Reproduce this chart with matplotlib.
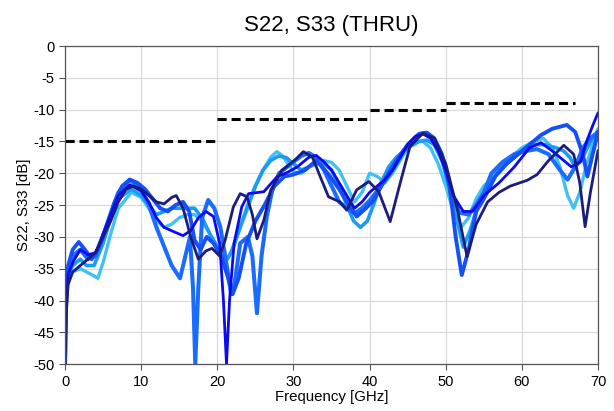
import matplotlib
matplotlib.use("Agg")
import matplotlib.pyplot as plt

plt.rcParams['font.family'] = ['Liberation Sans', 'DejaVu Sans']
plt.rcParams['axes.unicode_minus'] = False

# limit mask (segments)
lim_f0 = [0, 20, 40, 50]
lim_f1 = [20, 40, 50, 67]
lim_db = [-15, -11.4, -10, -9]

# navy trace
f_navy = [0, 0.15, 0.4, 1, 2, 3, 4, 5, 6, 7, 8, 9, 10, 11, 12, 13, 14, 14.6, 15.5, 16.5,
          17.5, 18.5, 19.3, 20.3, 21, 22.1, 23, 23.9, 24.6, 25.2, 26.1, 27, 28.5, 30.2, 31.3,
          32.5, 33.5, 34.6, 36.1, 37, 38.3, 39.9, 41.2, 42.7, 44, 45.3, 47, 48.5, 50, 51.5,
          52.8, 54, 55.5, 57, 58.5, 60.7, 62, 63.5, 65.5, 66.8, 67.6, 68.3, 69, 70]
db_navy = [-50, -42, -37.5, -35.5, -34.5, -33.5, -32.5, -30, -27.5, -24.5, -22.5, -22, -22.5,
           -23.5, -24.5, -24.8, -23.8, -23.5, -25.5, -30, -33.5, -32.2, -31.8, -33, -30.6, -25.3,
           -23.2, -23.7, -26.5, -30.3, -27.4, -22.7, -19.5, -17.9, -16.6, -17.5, -20.5, -23.7,
           -24.5, -25.8, -22.6, -21.3, -22.9, -27.6, -21.6, -15.8, -13.7, -14.5, -18.5, -25.5,
           -33.1, -28, -24.5, -23, -22, -21.1, -20.2, -18, -15.6, -17, -21.5, -28.4, -23, -16.4]

# blue trace
f_blue = [0, 0.15, 0.4, 1, 2, 3, 4, 5, 6, 7, 8.5, 10, 11, 12, 13, 14.5, 15.5, 16.5, 17.5, 18.5,
          19.5, 20.3, 20.8, 21.2, 21.6, 22.2, 23.2, 24.1, 26.1, 27.8, 29.3, 30.5, 32, 33, 34, 35,
          36, 37, 38, 39, 40, 41, 42, 43, 44, 45, 46, 47, 48, 49, 50, 51, 52.3, 53.5, 55, 57, 59,
          61, 62.5, 64, 65.5, 66.5, 67.7, 68.5, 69.3, 70]
db_blue = [-48, -40, -36, -34, -32, -32.8, -32.5, -29.5, -26.5, -23.5, -21.8, -22.8, -24.5, -27,
           -28.5, -29.3, -29.8, -29, -27, -26, -26.8, -31, -40, -50, -40, -31, -25.3, -23.2, -22.9,
           -20.6, -19.8, -19, -17.5, -17.2, -18.2, -19.5, -21.5, -23.5, -25.5, -24.5, -23, -22,
           -21, -19.5, -17.5, -15.5, -14.2, -13.8, -14.5, -16.5, -19.5, -23.5, -26, -26, -23.5,
           -21.5, -19, -16, -15.2, -16.5, -18, -19, -18.2, -15, -12.5, -10.5]

# royal trace
f_royal = [0, 0.15, 0.4, 1, 1.8, 2.6, 3.5, 4.5, 5.5, 6.5, 7.5, 8.5, 9.5, 10.5, 11.5, 12.5, 13.5,
           14.5, 15.5, 16.3, 17, 17.8, 18.6, 19.5, 20.5, 21.3, 22, 22.8, 23.8, 25, 26.2, 27.5,
           28.8, 30, 31.5, 33, 34.5, 36, 37, 38.3, 39.5, 40.5, 42, 43.5, 45, 46.5, 47.5, 48.5,
           49.5, 50.5, 51.3, 52.1, 53, 54, 55, 56.5, 58, 59.5, 61, 62.5, 64, 65.9, 67, 68, 68.6,
           69.3, 70]
db_royal = [-50, -40, -34.5, -32, -30.8, -32, -33.5, -31.5, -28, -24.5, -22, -21, -21.5, -22.5,
            -24, -25.5, -26, -25, -24.5, -26, -30.5, -32, -30, -31, -33, -36, -39, -36.5, -31,
            -27.5, -25, -22, -20.5, -20.2, -19.5, -18, -20, -22.5, -24.5, -26.8, -25.5, -24.3,
            -21, -18, -15.5, -13.8, -13.6, -14.5, -17, -22, -30, -36, -32, -26, -24, -20.5,
            -18.5, -17, -15.5, -14, -13, -12.4, -13.5, -17, -20.5, -17, -13.5]

# dodger trace
f_dodger = [0, 0.15, 0.4, 1, 2, 3, 4, 5, 6, 7, 8.5, 10, 11, 12, 13, 14, 15.1, 15.8, 16.4, 16.8,
            17.1, 17.5, 18, 18.8, 19.6, 20.4, 21.3, 21.8, 22.3, 23, 24, 24.6, 25.2, 25.8, 26.5,
            27.2, 28.1, 29.8, 31, 32, 33, 34, 35, 36, 37, 38, 39, 40, 41.5, 43, 44.5, 46, 47, 48,
            49, 50, 51, 51.8, 53, 54, 55, 56, 57.5, 59, 60.5, 62, 63.5, 65, 66, 67, 68, 69, 70]
db_dodger = [-49, -39, -35, -33, -32, -33.5, -33, -30, -26.5, -23, -21, -22.5, -25, -28.5, -31.5,
             -34.5, -36.5, -33, -30, -38, -50, -38, -27, -24.2, -25.5, -28.5, -35, -39, -37, -31,
             -30, -33, -42, -33, -26.8, -22.7, -20, -18.4, -17.3, -16.8, -17.5, -19.5, -22, -24.5,
             -25.5, -26.3, -25.5, -24.3, -22, -19.5, -16.5, -14.5, -13.7, -14.2, -16, -19.5, -24,
             -26.2, -26.5, -25, -23, -20, -18.2, -17, -16.5, -16.2, -17, -19.5, -21, -19, -16,
             -14.5, -13.5]

# deep sky trace
f_deep = [0, 0.15, 0.4, 1, 2, 2.8, 3.8, 5, 6, 7, 8.7, 10, 11, 12, 13, 14, 15, 16, 17, 18, 19,
          20, 20.7, 21.3, 22, 23, 24, 25, 26, 27, 28, 29, 30, 31, 32, 33, 34, 35, 36, 37, 37.9,
          38.8, 39.7, 40.5, 41.5, 42.5, 43.5, 45, 46.5, 47.5, 48.5, 49.5, 50.5, 51.5, 52.3, 53.2,
          54.2, 55.5, 57, 58.5, 60, 61.5, 63, 64.5, 65.5, 66.3, 67, 67.8, 68.6, 69.3, 70]
db_deep = [-46, -38, -36, -34.5, -33.5, -34.5, -34.5, -31, -27, -24, -22.5, -23.5, -25, -26.5,
           -26, -25.5, -25.5, -25.5, -25.5, -27, -29.5, -31.5, -33, -33.5, -32, -28.5, -25, -22,
           -19.5, -18, -17.3, -17.5, -18.5, -19.5, -19, -18.5, -18.5, -19.5, -22, -25, -27.5,
           -28.5, -27.5, -25, -21.5, -19, -17.5, -16, -15, -14.8, -15.5, -18, -22.5, -27.5, -31.6,
           -29, -25, -22, -19.5, -18, -16.5, -15.5, -15.5, -16, -16.5, -17.5, -19, -18, -16,
           -14.5, -13.5]

# light sky trace
f_sky = [0, 0.15, 0.4, 1, 2, 2.8, 3.6, 4.3, 5, 6, 7, 8.7, 10, 11, 12, 13, 14, 15, 16, 17, 18,
         19, 20, 21, 21.6, 22.2, 23, 24, 25, 26, 27, 27.8, 28.5, 29.3, 30, 31, 32, 33, 34, 35,
         36, 37, 38, 39, 40, 41, 42, 43, 44, 45, 46, 47, 48, 49, 50, 51, 52, 53, 54, 55, 56, 58,
         60, 61.5, 62.8, 64, 65, 66, 66.8, 67.6, 68.5, 69.3, 70]
db_sky = [-47, -39, -37, -35.5, -35, -35.5, -36, -36.5, -34, -29.5, -25.5, -23, -23.8, -25.5,
          -27.5, -28.5, -28, -27, -26.5, -26.5, -27.5, -29.5, -32, -33.5, -33, -31, -28.5, -25.5,
          -22, -19.5, -17.5, -16.6, -17.2, -18.5, -19.8, -20, -19, -18.3, -18, -18.3, -19.5, -22,
          -24.5, -23, -20, -20.5, -21.5, -20, -18, -16, -15, -15, -16, -18.5, -22, -26, -28.5,
          -27, -24, -22, -21, -18, -16, -15, -14.5, -16, -19, -23.5, -25.5, -23, -18.5, -15.5,
          -13]

traces = [
    (f_sky, db_sky, '#40c0f5', 2.4),
    (f_deep, db_deep, '#1a9cf5', 2.6),
    (f_dodger, db_dodger, '#1a6cff', 2.9),
    (f_royal, db_royal, '#1450f5', 2.8),
    (f_blue, db_blue, '#0a0af0', 2.0),
    (f_navy, db_navy, '#1c1c7c', 2.0),
]

fig = plt.figure(figsize=(6.14, 4.11), dpi=100)
ax = fig.add_axes([0.106, 0.114, 0.868, 0.774])

for f, db, c, lw in traces:
    ax.plot(f, db, color=c, lw=lw, solid_joinstyle='round', solid_capstyle='round')

for a, b, v in zip(lim_f0, lim_f1, lim_db):
    ax.plot([a, b], [v, v], color='black', lw=2.2, ls=(0, (3, 1.6)))

ax.set_xlim(0, 70)
ax.set_ylim(-50, 0)
ax.set_xticks(range(0, 71, 10))
ax.set_yticks(range(-50, 1, 5))
ax.grid(True, color='#d9d9d9', lw=0.9)
ax.set_axisbelow(True)
ax.tick_params(labelsize=10.5, direction='out', length=4, color='#555555')
for s in ax.spines.values():
    s.set_color('#555555')
    s.set_linewidth(0.9)

ax.set_title('S22, S33 (THRU)', fontsize=16, pad=11)
ax.set_xlabel('Frequency [GHz]', fontsize=10.8, labelpad=1)
ax.set_ylabel('S22, S33 [dB]', fontsize=10.8, labelpad=2)

fig.savefig('out.png', dpi=100)
